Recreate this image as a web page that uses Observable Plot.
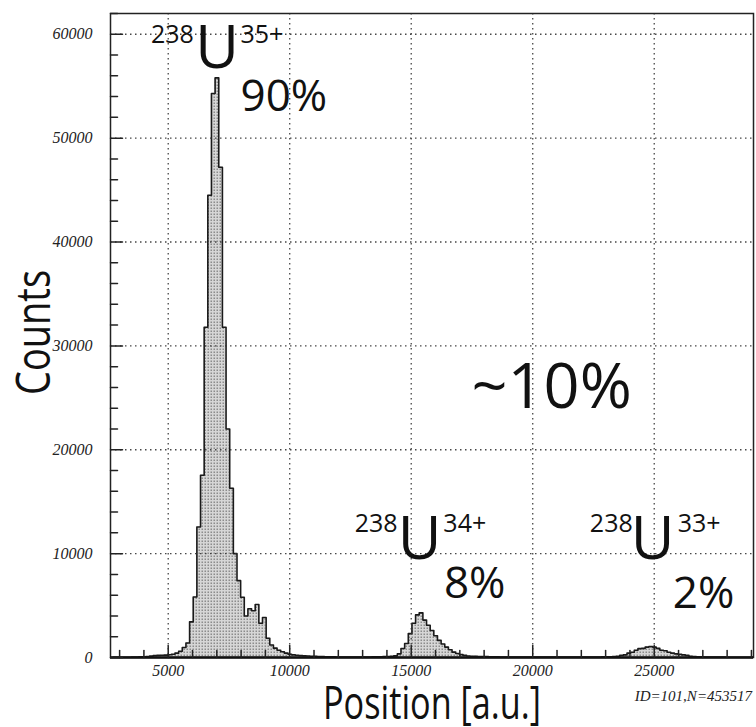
<!DOCTYPE html>
<html>
<head>
<meta charset="utf-8">
<script src="https://cdn.jsdelivr.net/npm/d3@7"></script>
<script src="https://cdn.jsdelivr.net/npm/@observablehq/plot@0.6"></script>
<style>
  html, body { margin: 0; padding: 0; background: #fff; }
</style>
</head>
<body>
<div id="chart"></div>
<script>
// ---- data ----
const binWidth = 150;
// region around the 35+ peak: bins starting at 2730
const start35 = 2730;
const counts35 = [
  20, 20, 25, 30, 30, 40, 50, 60, 70, 90,
  130, 180, 200, 210, 230, 260, 320, 420, 600, 960,
  1400, 3430, 5830, 12570, 17550, 31800, 44500, 54300, 55800, 47200,
  31800, 22000, 16300, 10000, 7400, 5800, 4000, 4700, 4500, 5100,
  3300, 3850, 1850, 1200, 900, 700, 550, 420, 320, 250,
  210, 180, 160, 140, 120, 110, 90, 80, 70, 60
];
// region around the 34+ peak: bins starting at 11730
const start34 = 11730;
const counts34 = [
  60, 50, 50, 50, 40, 40, 50, 40, 40, 50,
  50, 60, 60, 70, 80, 100, 110, 160, 350, 870,
  1350, 2300, 3300, 4100, 4300, 3600, 3100, 2600, 2100, 1650,
  1300, 1000, 750, 520, 380, 280, 200, 150, 120, 110,
  100, 90, 80, 70, 60, 60, 50, 50, 50, 40,
  40, 40, 40, 40, 40, 40, 40, 40, 40, 40
];
// region around the 33+ peak: bins starting at 20730
const start33 = 20730;
const counts33 = [
  40, 40, 40, 40, 40, 40, 40, 40, 50, 40,
  50, 50, 50, 50, 60, 60, 70, 80, 110, 200,
  250, 420, 500, 700, 850, 880, 1000, 1050, 1000, 880,
  700, 650, 500, 420, 350, 300, 250, 200, 120, 90,
  70, 60, 50, 50, 40, 40, 40, 40, 30, 30,
  30, 30, 30, 30, 30, 30
];

const xDomain = [2625, 29085];
const yDomain = [0, 62000];
const xMajorTicks = [5000, 10000, 15000, 20000, 25000];
const xMinorTicks = [3000, 4000, 6000, 7000, 8000, 9000, 11000, 12000, 13000, 14000,
  16000, 17000, 18000, 19000, 21000, 22000, 23000, 24000, 26000, 27000, 28000, 29000];
const yMajorTicks = [0, 10000, 20000, 30000, 40000, 50000, 60000];
const yMinorTicks = [2000, 4000, 6000, 8000, 12000, 14000, 16000, 18000, 22000, 24000,
  26000, 28000, 32000, 34000, 36000, 38000, 42000, 44000, 46000, 48000, 52000, 54000,
  56000, 58000, 62000];

// annotation labels (positions in data units)
const massLabels = [
  {x: 6054, y: 59890, text: "238"},
  {x: 14440, y: 12830, text: "238"},
  {x: 24115, y: 12830, text: "238"}
];
const elementLabels = [
  {x: 7017, y: 58610, text: "U"},
  {x: 15346, y: 11290, text: "U"},
  {x: 24938, y: 11290, text: "U"}
];
const chargeLabels = [
  {x: 7977, y: 59890, text: "35+"},
  {x: 16322, y: 12830, text: "34+"},
  {x: 25967, y: 12830, text: "33+"}
];
const shareLabels = [
  {x: 7977, y: 53955, text: "90%"},
  {x: 16346, y: 7055, text: "8%"},
  {x: 25762, y: 6090, text: "2%"}
];
const otherShare = [{x: 20779, y: 25920, text: "~10%"}];

const yTitle = "Counts";
const xTitle = "Position [a.u.]";
const statsText = "ID=101,N=453517";

// ---- build step outline from bins ----
function regionSteps(start, counts) {
  return counts.map((c, i) => ({x: start + i * binWidth, count: c}));
}
const steps = [
  ...regionSteps(start35, counts35),
  ...regionSteps(start34, counts34),
  ...regionSteps(start33, counts33)
];
const last = steps[steps.length - 1];
steps.push({x: last.x + binWidth, count: last.count});

const tickShape = {draw(context, l) { context.moveTo(0, 0); context.lineTo(0, -l); }};
const annFont = "Open Sans, Noto Sans, sans-serif";
const serifItalic = {fontFamily: "Liberation Serif, DejaVu Serif, serif", fontStyle: "italic"};

const chart = Plot.plot({
  width: 756,
  height: 727,
  marginLeft: 110,
  marginTop: 13,
  marginRight: 3,
  marginBottom: 70,
  style: {background: "#fff", overflow: "visible"},
  x: {domain: xDomain, label: null},
  y: {domain: yDomain, label: null},
  marks: [
    Plot.areaY(steps, {x: "x", y: "count", curve: "step-after", fill: "url(#stipple)", clip: true}),
    Plot.lineY(steps, {x: "x", y: "count", curve: "step-after", stroke: "#1a1a1a", strokeWidth: 1.6, clip: true}),
    Plot.gridX(xMajorTicks, {stroke: "#333", strokeOpacity: 0.9, strokeWidth: 1.3, strokeDasharray: "1.5,3.5"}),
    Plot.gridY(yMajorTicks.filter(d => d > 0), {stroke: "#333", strokeOpacity: 0.9, strokeWidth: 1.3, strokeDasharray: "1.5,3.5"}),
    Plot.frame({stroke: "#222", strokeWidth: 1.5}),
    Plot.ruleY([0], {stroke: "#111", strokeWidth: 2.5}),
    // inward ticks
    Plot.vector(xMinorTicks, {x: d => d, frameAnchor: "bottom", length: 7, rotate: 0, anchor: "start", shape: tickShape, stroke: "#222", strokeWidth: 1.5}),
    Plot.vector(xMajorTicks, {x: d => d, frameAnchor: "bottom", length: 12, rotate: 0, anchor: "start", shape: tickShape, stroke: "#222", strokeWidth: 1.5}),
    Plot.vector(yMinorTicks, {y: d => d, frameAnchor: "left", length: 7, rotate: 90, anchor: "start", shape: tickShape, stroke: "#222", strokeWidth: 1.5}),
    Plot.vector(yMajorTicks, {y: d => d, frameAnchor: "left", length: 12, rotate: 90, anchor: "start", shape: tickShape, stroke: "#222", strokeWidth: 1.5}),
    // tick labels
    Plot.axisX(xMajorTicks, {tickSize: 0, tickPadding: 7, fontSize: 16, ...serifItalic, fill: "#222", tickFormat: d => String(d), label: null}),
    Plot.axisY(yMajorTicks, {tickSize: 0, tickPadding: 18, fontSize: 16, ...serifItalic, fill: "#222", tickFormat: d => String(d), label: null}),
    // axis titles
    Plot.text([yTitle], {frameAnchor: "left", textAnchor: "middle", lineAnchor: "middle", dx: -76, dy: -3, rotate: -90, fontSize: 48, fontFamily: annFont, fill: "#111"}),
    Plot.text([xTitle], {frameAnchor: "bottom", textAnchor: "middle", lineAnchor: "middle", dy: 47, fontSize: 45, fontFamily: annFont, fill: "#111"}),
    Plot.text([statsText], {frameAnchor: "bottom-right", textAnchor: "end", lineAnchor: "middle", dx: -1.5, dy: 39, fontSize: 15, ...serifItalic, fill: "#222"}),
    // annotations
    Plot.text(massLabels, {x: "x", y: "y", text: "text", textAnchor: "end", fontSize: 25, fontFamily: annFont, fill: "#111"}),
    Plot.text(elementLabels, {x: "x", y: "y", text: "text", textAnchor: "middle", fontSize: 60, fontFamily: annFont, fill: "#111"}),
    Plot.text(chargeLabels, {x: "x", y: "y", text: "text", textAnchor: "start", fontSize: 25, fontFamily: annFont, fill: "#111"}),
    Plot.text(shareLabels, {x: "x", y: "y", text: "text", textAnchor: "start", fontSize: 44, fontFamily: annFont, fill: "#111"}),
    Plot.text(otherShare, {x: "x", y: "y", text: "text", textAnchor: "middle", fontSize: 63, fontFamily: annFont, fill: "#111"})
  ]
});

// stippled fill pattern
const defs = d3.select(chart).insert("defs", ":first-child");
const pat = defs.append("pattern")
  .attr("id", "stipple")
  .attr("patternUnits", "userSpaceOnUse")
  .attr("width", 3).attr("height", 3);
pat.append("rect").attr("width", 3).attr("height", 3).attr("fill", "#d6d6d6");
pat.append("rect").attr("x", 0.5).attr("y", 0.5).attr("width", 1.5).attr("height", 1.5).attr("fill", "#8c8c8c");

// the reference uses a narrow face for the axis titles: compress them horizontally
const titleLengths = new Map([[yTitle, 125], [xTitle, 218]]);
d3.select(chart).selectAll("text").each(function () {
  const len = titleLengths.get(this.textContent);
  if (len) d3.select(this).attr("textLength", len).attr("lengthAdjust", "spacingAndGlyphs");
});

document.getElementById("chart").appendChild(chart);
</script>
</body>
</html>
